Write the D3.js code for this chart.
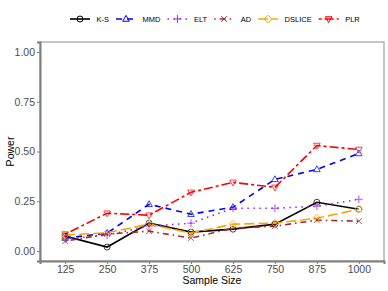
<!DOCTYPE html>
<html>
<head>
<meta charset="utf-8">
<script src="https://cdn.jsdelivr.net/npm/d3@7"></script>
<style>
  body { margin: 0; background: #fff; }
  svg { font-family: "Liberation Sans", Arial, sans-serif; }
</style>
</head>
<body>
<div id="chart"></div>
<script>
const sizes = [125, 250, 375, 500, 625, 750, 875, 1000];
const yTicks = [0, 0.25, 0.5, 0.75, 1];

// power, one array per test
const ks = [0.075, 0.02, 0.14, 0.095, 0.11, 0.135, 0.245, 0.21];
const mmd = [0.065, 0.09, 0.235, 0.185, 0.22, 0.36, 0.41, 0.49];
const elt = [0.06, 0.08, 0.125, 0.14, 0.215, 0.215, 0.225, 0.26];
const ad = [0.05, 0.085, 0.10, 0.065, 0.115, 0.125, 0.155, 0.15];
const dslice = [0.08, 0.092, 0.135, 0.09, 0.135, 0.14, 0.165, 0.21];
const plr = [0.085, 0.19, 0.18, 0.295, 0.345, 0.32, 0.53, 0.51];

const methods = ["K-S", "MMD", "ELT", "AD", "DSLICE", "PLR"];
const values = [ks, mmd, elt, ad, dslice, plr];

const colors = ["#000000", "#0000FF", "#A020F0", "#A52A2A", "#FFA500", "#FF0000"];
const dashes = ["none", "6,5", "1.5,4.5", "1.5,4,6,4", "10,4", "3,3,9,3"];
const shapes = ["circle", "triangle", "plus", "cross", "diamond", "down"];

const margin = {top: 42, right: 4, bottom: 30, left: 40, width: 388, height: 291};

const svg = d3.select("#chart").append("svg")
    .attr("width", margin.width)
    .attr("height", margin.height);

const x = d3.scalePoint()
    .domain(sizes)
    .range([margin.left, margin.width - margin.right])
    .padding(0.6);

const y = d3.scaleLinear()
    .domain([-0.05, 1.05])
    .range([margin.height - margin.bottom, margin.top]);

// panel border
svg.append("rect")
    .attr("x", margin.left)
    .attr("y", margin.top)
    .attr("width", margin.width - margin.right - margin.left)
    .attr("height", margin.height - margin.bottom - margin.top)
    .attr("fill", "none")
    .attr("stroke", "#8c8c8c")
    .attr("stroke-width", 1);

// axes
const xAxis = svg.append("g")
    .attr("transform", "translate(0," + (margin.height - margin.bottom) + ")")
    .call(d3.axisBottom(x).tickSize(3).tickPadding(2));

const yAxis = svg.append("g")
    .attr("transform", "translate(" + margin.left + ",0)")
    .call(d3.axisLeft(y).tickValues(yTicks).tickFormat(d3.format(".2f")).tickSize(3).tickPadding(2));

[xAxis, yAxis].forEach(a => {
    a.select(".domain").attr("stroke", "#7f7f7f").attr("stroke-width", 2);
    a.selectAll(".tick line").attr("stroke", "#7f7f7f");
    a.selectAll(".tick text")
        .attr("fill", "#4d4d4d")
        .style("font-size", "10.5px")
        .style("font-family", "'Liberation Sans', Arial, sans-serif");
});

// axis titles
svg.append("text")
    .attr("x", (margin.left + margin.width - margin.right) / 2)
    .attr("y", 284)
    .attr("text-anchor", "middle")
    .style("font-size", "10.5px")
    .text("Sample Size");

svg.append("text")
    .attr("transform", "translate(14," + ((margin.top + margin.height - margin.bottom) / 2) + ") rotate(-90)")
    .attr("text-anchor", "middle")
    .style("font-size", "10.5px")
    .text("Power");

function drawShape(g, shape, color, cx, cy) {
    const r = 3;
    if (shape === "circle") {
        g.append("circle").attr("cx", cx).attr("cy", cy).attr("r", r)
            .attr("fill", "none").attr("stroke", color);
    } else if (shape === "triangle" || shape === "down") {
        const s = shape === "triangle" ? 1 : -1;
        const pts = [[cx, cy - s * r * 1.2], [cx - r * 1.1, cy + s * r * 0.75], [cx + r * 1.1, cy + s * r * 0.75]];
        g.append("polygon").attr("points", pts.join(" "))
            .attr("fill", "none").attr("stroke", color);
    } else if (shape === "diamond") {
        const pts = [[cx, cy - r * 1.3], [cx + r * 1.3, cy], [cx, cy + r * 1.3], [cx - r * 1.3, cy]];
        g.append("polygon").attr("points", pts.join(" "))
            .attr("fill", "none").attr("stroke", color);
    } else if (shape === "plus") {
        g.append("path").attr("d", `M${cx - r * 1.3},${cy}H${cx + r * 1.3}M${cx},${cy - r * 1.3}V${cy + r * 1.3}`)
            .attr("stroke", color);
    } else if (shape === "cross") {
        const k = r * 0.95;
        g.append("path").attr("d", `M${cx - k},${cy - k}L${cx + k},${cy + k}M${cx - k},${cy + k}L${cx + k},${cy - k}`)
            .attr("stroke", color);
    }
}

const line = d3.line()
    .x((d, i) => x(sizes[i]))
    .y(d => y(d));

const lines = svg.append("g");
values.forEach((vals, k) => {
    lines.append("path")
        .datum(vals)
        .attr("d", line)
        .attr("fill", "none")
        .attr("stroke", colors[k])
        .attr("stroke-width", 1.6)
        .attr("stroke-dasharray", dashes[k]);
});

const points = svg.append("g").attr("stroke-width", 1).attr("opacity", 0.75);
values.forEach((vals, k) => {
    vals.forEach((v, i) => drawShape(points, shapes[k], colors[k], x(sizes[i]), y(v)));
});

// legend on top
const legend = svg.append("g").attr("transform", "translate(0,19)");
let lx = 70;
methods.forEach((m, k) => {
    legend.append("line")
        .attr("x1", lx).attr("x2", lx + 20)
        .attr("stroke", colors[k])
        .attr("stroke-width", 1.6)
        .attr("stroke-dasharray", dashes[k]);
    const pg = legend.append("g").attr("stroke-width", 1);
    drawShape(pg, shapes[k], colors[k], lx + 10, 0);
    const t = legend.append("text")
        .attr("x", lx + 26.5)
        .attr("dy", "0.35em")
        .style("font-size", "7.5px")
        .text(m);
    lx += 26.5 + t.node().getComputedTextLength() + 7;
});
</script>
</body>
</html>
